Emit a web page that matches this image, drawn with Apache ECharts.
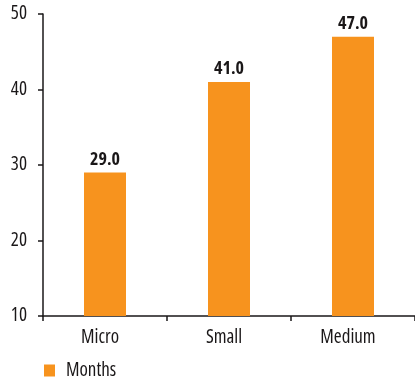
<!DOCTYPE html>
<html><head><meta charset="utf-8">
<script src="https://cdn.jsdelivr.net/npm/echarts@6/dist/echarts.min.js"></script>
<style>html,body{margin:0;padding:0;background:#fff}#c{width:415px;height:382px}</style>
</head><body><div id="c"></div>
<script>
const categories = ['Micro', 'Small', 'Medium'];
const months = [29.0, 41.0, 47.0];
const seriesName = 'Months';
const yTicks = [10, 20, 30, 40, 50];

const FONT = "'Open Sans', sans-serif";
const STRETCH = 'condensed';
const INK = '#1a1718';
const chart = echarts.init(document.getElementById('c'));
chart.setOption({
  animation: false,
  textStyle: { fontFamily: FONT, fontStyle: STRETCH },
  grid: { left: 43, right: -4.5, top: 14, bottom: 66, containLabel: false },
  legend: {
    data: [seriesName], left: 39, top: 356, itemWidth: 11, itemHeight: 12, itemGap: 12,
    icon: 'rect',
    textStyle: { fontFamily: FONT, fontStyle: STRETCH, fontWeight: 500, fontSize: 19, color: INK, padding: [0, 0, 0, 6] }
  },
  xAxis: {
    type: 'category', data: categories,
    axisLine: { lineStyle: { color: INK, width: 1.5 } },
    axisTick: { show: true, length: 5, inside: false, lineStyle: { color: INK, width: 1.5 } },
    axisLabel: { fontFamily: FONT, fontStyle: STRETCH, fontWeight: 500, fontSize: 19, color: INK, margin: 12, padding: [0, 10, 0, 0] }
  },
  yAxis: {
    type: 'value', min: yTicks[0], max: yTicks[yTicks.length - 1], interval: 10,
    axisLine: { show: true, lineStyle: { color: INK, width: 1.5 } },
    axisTick: { show: true, length: 5, lineStyle: { color: INK, width: 1.5 } },
    axisLabel: { fontFamily: FONT, fontStyle: STRETCH, fontWeight: 500, fontSize: 19, color: INK, margin: 16 },
    splitLine: { show: false }
  },
  series: [{
    name: seriesName, type: 'bar', data: months, barWidth: 42,
    itemStyle: { color: '#f7931e' },
    label: {
      show: true, position: 'top', distance: 4,
      formatter: p => p.value.toFixed(1),
      fontFamily: FONT, fontStyle: STRETCH, fontSize: 18, fontWeight: 'bold', color: INK
    }
  }]
});
</script></body></html>
